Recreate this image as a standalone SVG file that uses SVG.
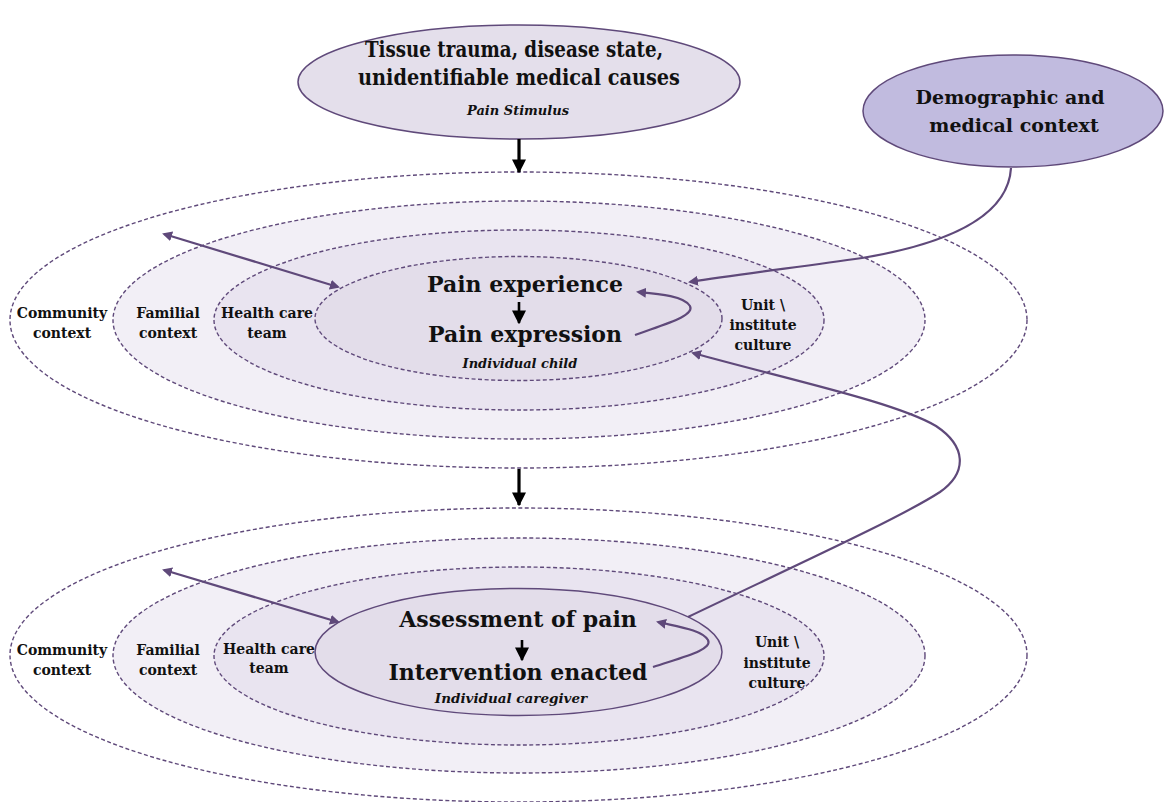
<svg xmlns="http://www.w3.org/2000/svg" width="1165" height="802" viewBox="0 0 1165 802">
<defs>
<style>
.ring{stroke:#5f497a;stroke-width:1.4;stroke-dasharray:4,2.5}
.solid{stroke:#5f497a;stroke-width:1.5}
.lvl0{fill:#ffffff}
.lvl1{fill:#f2eff6}
.lvl2{fill:#e9e4f0}
.lvl3{fill:#e3ddea}
.t{font-family:"DejaVu Serif","Liberation Serif",serif;font-weight:bold;fill:#111;text-anchor:middle}
.it{font-style:italic}
.big{font-size:22px}
.ttl{font-size:21.5px}
.mid{font-size:19px}
.sm{font-size:14px}
.xs{font-size:13px}
.conn{fill:none;stroke:#5f497a;stroke-width:2.2}
.blk{fill:none;stroke:#000;stroke-width:3.2}
</style>
<marker id="pa" viewBox="0 0 10 10" refX="8" refY="5" markerWidth="10" markerHeight="10" markerUnits="userSpaceOnUse" orient="auto-start-reverse">
<path d="M0,0 L10,5 L0,10 z" fill="#5f497a"/>
</marker>
<marker id="ba" viewBox="0 0 10 10" refX="9" refY="5" markerWidth="14" markerHeight="14" markerUnits="userSpaceOnUse" orient="auto">
<path d="M0,0 L10,5 L0,10 z" fill="#000"/>
</marker>
</defs>

<g id="stimulus">
<ellipse cx="519" cy="82" rx="221" ry="57" fill="#e4dfeb" class="solid"/>
<text class="t ttl" x="514" y="57" textLength="298" lengthAdjust="spacingAndGlyphs">Tissue trauma, disease state,</text>
<text class="t ttl" x="519" y="85" textLength="322" lengthAdjust="spacingAndGlyphs">unidentifiable medical causes</text>
<text class="t it xs" x="518" y="115">Pain Stimulus</text>
</g>

<g id="demographic">
<ellipse cx="1013" cy="111" rx="150" ry="56" fill="#c1bbdf" class="solid"/>
<text class="t mid" x="1010" y="104">Demographic and</text>
<text class="t mid" x="1014" y="132">medical context</text>
</g>

<g id="child-system">
<g id="child-community">
<ellipse cx="518.5" cy="320" rx="508.5" ry="148" class="ring lvl0"/>
<text class="t sm" x="62" y="318">Community</text>
<text class="t sm" x="62" y="338">context</text>
</g>
<g id="child-familial">
<ellipse cx="519" cy="320" rx="406" ry="119" class="ring lvl1"/>
<text class="t sm" x="168" y="318">Familial</text>
<text class="t sm" x="168" y="338">context</text>
</g>
<g id="child-healthcare">
<ellipse cx="519" cy="320" rx="305" ry="90" class="ring lvl2"/>
<text class="t sm" x="267" y="318">Health care</text>
<text class="t sm" x="267" y="338">team</text>
<text class="t sm" x="763" y="310">Unit \</text>
<text class="t sm" x="763" y="330">institute</text>
<text class="t sm" x="763" y="350">culture</text>
</g>
<g id="child-individual">
<ellipse cx="518.5" cy="318.5" rx="203.5" ry="62" class="ring lvl3"/>
<text class="t big" x="525" y="292">Pain experience</text>
<text class="t big" x="525" y="342">Pain expression</text>
<text class="t it xs" x="520" y="368">Individual child</text>
</g>
</g>

<g id="caregiver-system">
<g id="care-community">
<ellipse cx="518.5" cy="655" rx="508.5" ry="147" class="ring lvl0"/>
<text class="t sm" x="62" y="655">Community</text>
<text class="t sm" x="62" y="675">context</text>
</g>
<g id="care-familial">
<ellipse cx="519" cy="655.5" rx="406" ry="117.5" class="ring lvl1"/>
<text class="t sm" x="168" y="655">Familial</text>
<text class="t sm" x="168" y="675">context</text>
</g>
<g id="care-healthcare">
<ellipse cx="519" cy="656" rx="305" ry="89" class="ring lvl2"/>
<text class="t sm" x="269" y="654">Health care</text>
<text class="t sm" x="269" y="673">team</text>
<text class="t sm" x="777" y="647">Unit \</text>
<text class="t sm" x="777" y="668">institute</text>
<text class="t sm" x="777" y="688">culture</text>
</g>
<g id="care-individual">
<ellipse cx="518.5" cy="652" rx="203.5" ry="63.5" class="solid lvl3"/>
<text class="t big" x="518" y="627">Assessment of pain</text>
<text class="t big" x="518" y="680">Intervention enacted</text>
<text class="t it" x="511" y="703" style="font-size:13.5px">Individual caregiver</text>
</g>
</g>

<g id="connectors">
<path class="blk" d="M519,139 L519,172" marker-end="url(#ba)"/>
<path class="blk" d="M519,469 L519,505" marker-end="url(#ba)"/>
<path class="blk" d="M519,302 L519,323" marker-end="url(#ba)" style="stroke-width:2.6"/>
<path class="blk" d="M522,640 L522,660" marker-end="url(#ba)" style="stroke-width:2.6"/>
<path class="conn" d="M164,234 L338,287" marker-start="url(#pa)" marker-end="url(#pa)"/>
<path class="conn" d="M164,570 L338,622" marker-start="url(#pa)" marker-end="url(#pa)"/>
<path class="conn" d="M1011,168 C1008,220 940,245 862,258 C800,267 740,274 690,282" marker-end="url(#pa)"/>
<path class="conn" d="M635,335 C665,324 695,316 690,306 C684,296 660,294 638,292" marker-end="url(#pa)"/>
<path class="conn" d="M653,667 C683,657 713,650 708,640 C702,630 680,627 658,622" marker-end="url(#pa)"/>
<path class="conn" d="M688,617 C790,568 900,518 940,492 C968,472 966,446 936,426 C895,402 790,380 693,353" marker-end="url(#pa)"/>
</g>
</svg>
